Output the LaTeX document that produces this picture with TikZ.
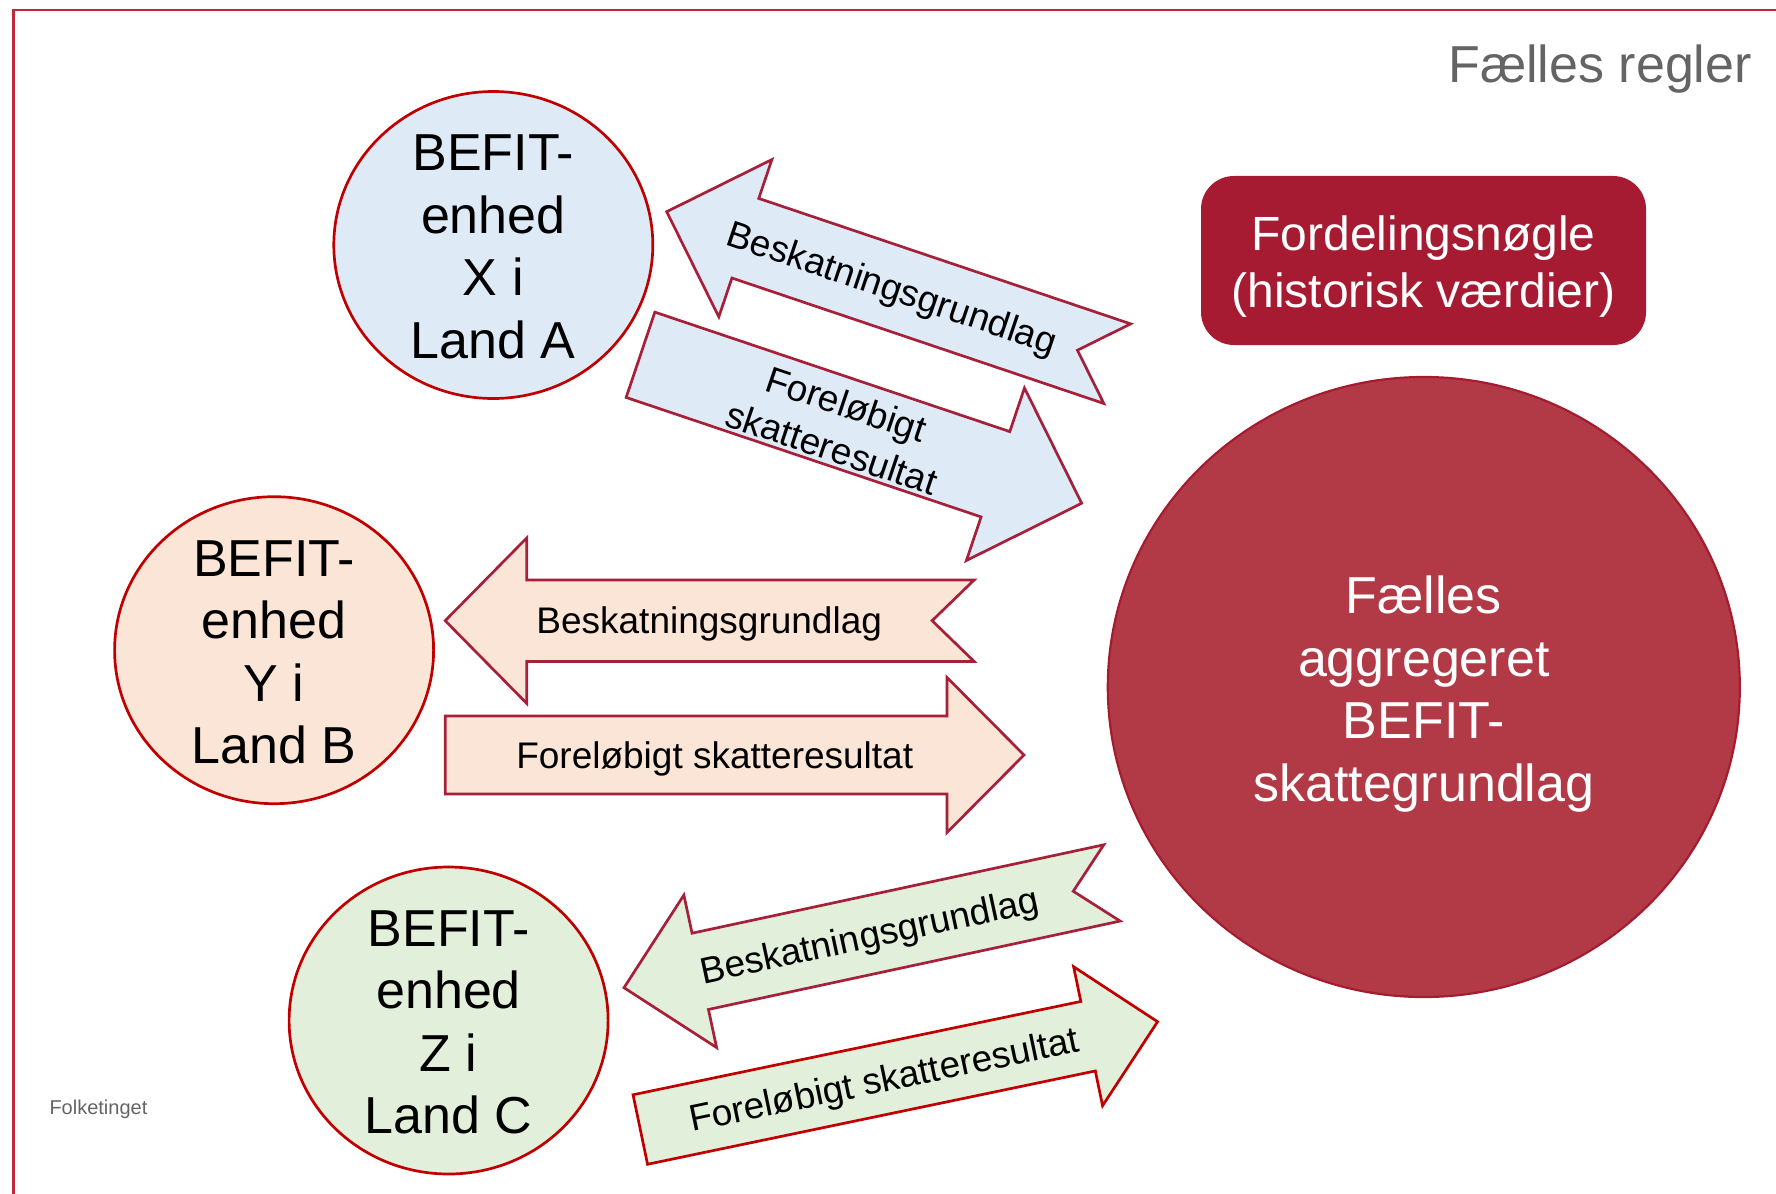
\documentclass[tikz,border=0pt]{standalone}
\usepackage{fontspec}
\setmainfont{Liberation Sans}
\usetikzlibrary{shapes.geometric}
\definecolor{framecol}{HTML}{C0283E}
\definecolor{cred}{HTML}{C00000}
\definecolor{acol}{HTML}{A6203A}
\definecolor{fblue}{HTML}{DEEBF7}
\definecolor{fpeach}{HTML}{FBE5D6}
\definecolor{fgreen}{HTML}{E2EFDA}
\definecolor{bigfill}{HTML}{B23A46}
\definecolor{bigline}{HTML}{A51C30}
\definecolor{boxfill}{HTML}{A61B31}
\definecolor{graytxt}{HTML}{646464}
\begin{document}
\begin{tikzpicture}[x=1pt,y=1pt,
  ent/.style={ellipse, draw=cred, line width=2.7pt, minimum width=319pt, minimum height=307pt, inner sep=0pt},
  enttxt/.style={align=center, font=\fontsize{52}{62.5}\selectfont, inner sep=0pt},
  barrow/.style={draw=acol, line width=2.7pt, line join=miter},
  albl/.style={font=\fontsize{37}{46}\selectfont, inner sep=0pt, transform shape, align=center},
]
\useasboundingbox (0,0) rectangle (1776,-1193);
\begin{scope}
  \clip (0,0) rectangle (1776,-1193);
  \draw[framecol, line width=2.5pt] (13.3,-10) rectangle (1810,-1230);
\end{scope}

% title and source
\node[anchor=base east, inner sep=0pt, text=graytxt, font=\fontsize{52}{62}\selectfont] (title) at (1752,-83) {Fælles regler};
\node[anchor=base west, inner sep=0pt, text=graytxt, font=\fontsize{20}{24}\selectfont] (src) at (49.3,-1114) {Folketinget};

% key box
\node[fill=boxfill, rounded corners=33pt, minimum width=445pt, minimum height=169pt, inner sep=0pt] (key) at (1423.5,-260.5) {};
\node[align=center, text=white, inner sep=0pt, font=\fontsize{48}{57}\selectfont] (keytxt) at ([yshift=-6pt]key.center) {Fordelingsnøgle\\(historisk værdier)};

% big circle
\node[ellipse, draw=bigline, fill=bigfill, line width=2.2pt, minimum width=632pt, minimum height=620pt, inner sep=0pt] (big) at (1423.8,-687) {};
\node[enttxt, text=white] (bigtxt) at ([yshift=-7pt]big.center) {Fælles\\aggregeret\\BEFIT-\\skattegrundlag};

% entity circles
\node[ent, fill=fblue] (ea) at (493.3,-245) {};
\node[enttxt] (eatxt) at ([yshift=-2pt]ea.center) {BEFIT-\\enhed\\X i\\Land A};
\node[ent, fill=fpeach] (eb) at (274.1,-650.2) {};
\node[enttxt] (ebtxt) at ([yshift=-2pt]eb.center) {BEFIT-\\enhed\\Y i\\Land B};
\node[ent, fill=fgreen] (ec) at (448.6,-1020.5) {};
\node[enttxt] (ectxt) at ([yshift=-2pt]ec.center) {BEFIT-\\enhed\\Z i\\Land C};

% ---- arrows for A ----
\begin{scope}[shift={(666.7,-211.7)}, rotate=-18.64]
  \draw[barrow, fill=fblue] (0,0) -- (83,83) -- (83,42) -- (475.5,42) -- (433.5,0) -- (475.5,-42) -- (83,-42) -- (83,-83) -- cycle;
  \node[albl] (a1) at (238,-3) {Beskatningsgrundlag};
\end{scope}
\begin{scope}[shift={(640.5,-354.8)}, rotate=-18.6]
  \draw[barrow, fill=fblue] (0,45) -- (374.5,45) -- (374.5,91) -- (465.5,0) -- (374.5,-91) -- (374.5,-45) -- (0,-45) -- cycle;
  \node[albl] (a2) at (211,-4) {Foreløbigt\\skatteresultat};
\end{scope}

% ---- arrows for B ----
\begin{scope}[shift={(445.2,-620.7)}]
  \draw[barrow, fill=fpeach] (0,0) -- (81.5,82.7) -- (81.5,40.7) -- (528.9,40.7) -- (486.9,0) -- (528.9,-40.7) -- (81.5,-40.7) -- (81.5,-82.7) -- cycle;
  \node[albl] (b1) at (264,-3.5) {Beskatningsgrundlag};
\end{scope}
\begin{scope}[shift={(445.2,-755)}]
  \draw[barrow, fill=fpeach] (0,39) -- (501.8,39) -- (501.8,77.5) -- (578.8,0) -- (501.8,-77.5) -- (501.8,-39) -- (0,-39) -- cycle;
  \node[albl] (b2) at (269.5,-3.5) {Foreløbigt skatteresultat};
\end{scope}

% ---- arrows for C ----
\begin{scope}[shift={(624,-987.7)}, rotate=12.12]
  \draw[barrow, fill=fgreen] (0,0) -- (78,78) -- (78,39) -- (499.1,39) -- (459.5,0) -- (499.1,-39) -- (78,-39) -- (78,-78) -- cycle;
  \node[albl] (c1) at (251,-3.5) {Beskatningsgrundlag};
\end{scope}
\begin{scope}[shift={(640.3,-1129.5)}, rotate=11.77]
  \draw[barrow, draw=cred, fill=fgreen] (0,35.5) -- (457.4,35.5) -- (457.4,71) -- (528.4,0) -- (457.4,-71) -- (457.4,-35.5) -- (0,-35.5) -- cycle;
  \node[albl] (c2) at (249,-3.5) {Foreløbigt skatteresultat};
\end{scope}
\end{tikzpicture}
\end{document}
